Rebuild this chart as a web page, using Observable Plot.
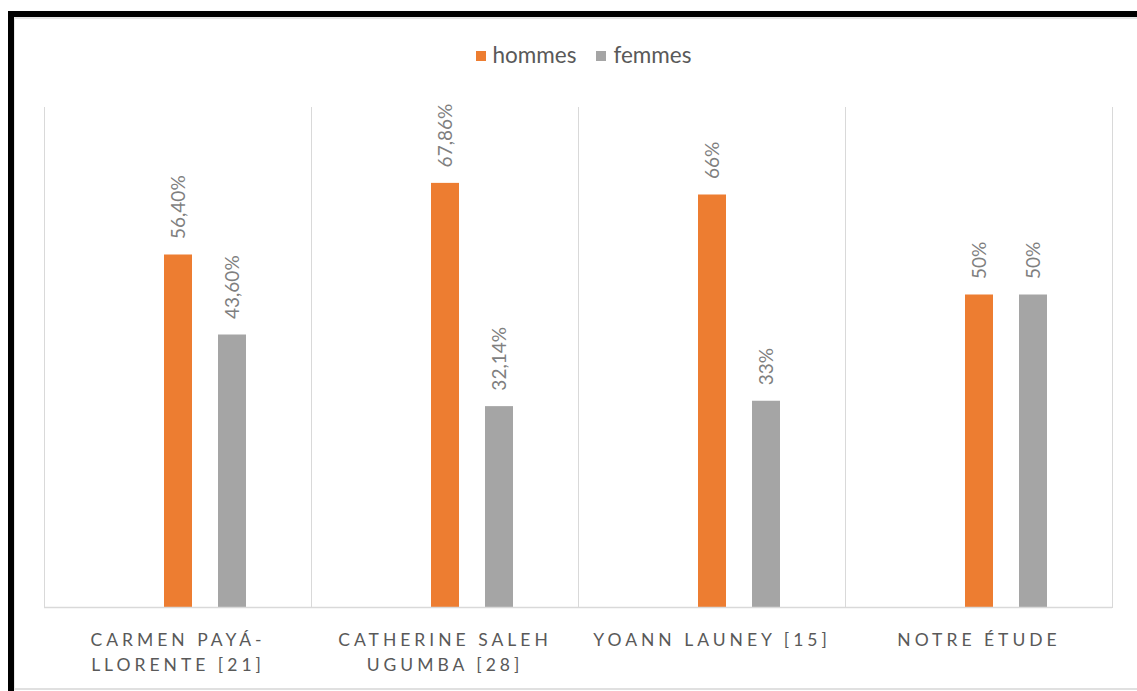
<!DOCTYPE html>
<html>
<head>
<meta charset="utf-8">
<script src="https://cdn.jsdelivr.net/npm/d3@7"></script>
<script src="https://cdn.jsdelivr.net/npm/@observablehq/plot@0.6"></script>
<style>
  html, body { margin: 0; padding: 0; background: #fff; }
  #wrap { position: relative; width: 1137px; height: 691px; overflow: hidden; font-family: Lato, "Open Sans", sans-serif; }
  #outer { position: absolute; left: 8px; top: 11px; width: 1129px; height: 680px; box-sizing: border-box; border-top: 6px solid #000; border-left: 6px solid #000; }
  #inner { position: absolute; left: 14px; top: 17px; width: 1123px; height: 673px; box-sizing: border-box; border-top: 2px solid #e6e6e6; border-left: 1px solid #e6e6e6; border-bottom: 2px solid #e0e0e0; }
  #legend { position: absolute; top: 41px; left: 30px; width: 1107px; display: flex; justify-content: center; align-items: center; font-size: 22.5px; color: #595959; }
  .item { display: flex; align-items: center; margin: 0 10px; }
  .sw { width: 10px; height: 10px; margin-right: 7px; margin-top: 2px; }
  #chart { position: absolute; left: 0; top: 90px; }
  #chart svg g[aria-label="fx-axis tick label"] text { letter-spacing: 4px; }
</style>
</head>
<body>
<div id="wrap">
  <div id="outer"></div>
  <div id="inner"></div>
  <div id="legend"></div>
  <div id="chart"></div>
</div>
<script>
const categories = ["Carmen Payá-Llorente [21]", "Catherine Saleh Ugumba [28]", "Yoann Launey [15]", "Notre étude"];
const tickLabels = ["CARMEN PAYÁ-\nLLORENTE [21]", "CATHERINE SALEH\nUGUMBA [28]", "YOANN LAUNEY [15]", "NOTRE ÉTUDE"];
const series = ["hommes", "femmes"];
const colors = ["#ED7D31", "#A5A5A5"];
const hommes = [56.40, 67.86, 66, 50];
const femmes = [43.60, 32.14, 33, 50];
const hommesLabels = ["56,40%", "67,86%", "66%", "50%"];
const femmesLabels = ["43,60%", "32,14%", "33%", "50%"];

const table = [];
categories.forEach((c, i) => {
  table.push({etude: c, sexe: "hommes", valeur: hommes[i], label: hommesLabels[i]});
  table.push({etude: c, sexe: "femmes", valeur: femmes[i], label: femmesLabels[i]});
});

// legend
const legend = document.getElementById("legend");
series.forEach((s, i) => {
  const it = document.createElement("div");
  it.className = "item";
  const sw = document.createElement("span");
  sw.className = "sw";
  sw.style.background = colors[i];
  it.appendChild(sw);
  it.appendChild(document.createTextNode(s));
  legend.appendChild(it);
});

const chart = Plot.plot({
  width: 1137,
  height: 601,
  marginLeft: 43,
  marginRight: 24,
  marginTop: 17,
  marginBottom: 84,
  style: {background: "transparent", fontFamily: "Lato, 'Open Sans', sans-serif"},
  fx: {domain: categories, padding: 0, label: null},
  x: {domain: series, paddingInner: 0.473, paddingOuter: 1.668, align: 0.65, axis: null},
  y: {domain: [0, 80], axis: null},
  color: {domain: series, range: colors},
  marks: [
    Plot.frame({anchor: "left", stroke: "#d9d9d9"}),
    Plot.frame({anchor: "right", stroke: "#d9d9d9"}),
    Plot.barY(table, {fx: "etude", x: "sexe", y: "valeur", fill: "sexe"}),
    Plot.ruleY([0], {stroke: "#d9d9d9", strokeWidth: 1.5}),
    Plot.text(table, {fx: "etude", x: "sexe", y: "valeur", text: "label", rotate: -90, textAnchor: "start", dy: -16, fill: "#7f7f7f", fontSize: 19}),
    Plot.axisFx({anchor: "bottom", tickSize: 0, tickPadding: 21, fontSize: 17.5, lineHeight: 1.43, fill: "#595959", label: null,
      tickFormat: d => tickLabels[categories.indexOf(d)]})
  ]
});
document.getElementById("chart").appendChild(chart);
</script>
</body>
</html>
